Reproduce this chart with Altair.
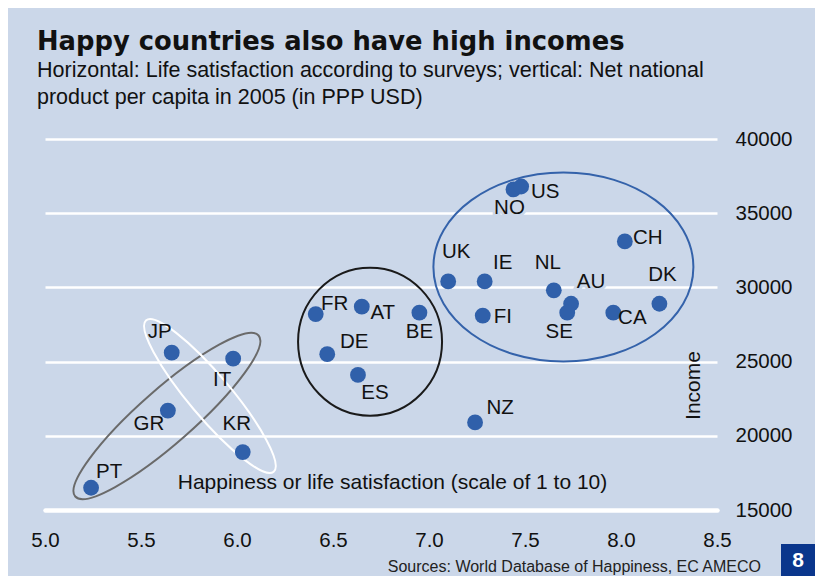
import altair as alt
import pandas as pd

# ---------------- data ----------------
countries = ["PT", "GR", "JP", "IT", "KR", "FR", "AT", "BE", "DE", "ES", "NZ",
             "NO", "US", "UK", "IE", "FI", "NL", "AU", "SE", "CH", "CA", "DK"]
happiness = [5.24, 5.64, 5.66, 5.98, 6.03, 6.41, 6.65, 6.95, 6.47, 6.63, 7.24,
             7.44, 7.48, 7.10, 7.29, 7.28, 7.65, 7.74, 7.72, 8.02, 7.96, 8.20]
income = [16500, 21700, 25600, 25200, 18900, 28200, 28700, 28300, 25500, 24100, 20900,
          36600, 36800, 30400, 30400, 28100, 29800, 28900, 28300, 33100, 28300, 28900]

x_ticks = [5.0, 5.5, 6.0, 6.5, 7.0, 7.5, 8.0, 8.5]
y_ticks = [15000, 20000, 25000, 30000, 35000, 40000]

# country groups circled in the chart (centre of each ellipse, in data units)
group_names = ["south", "asia", "europe", "rich"]
group_happiness = [5.635, 5.859, 6.693, 7.700]
group_income = [21335, 22683, 26342, 31376]

title_text = "Happy countries also have high incomes"
subtitle_text = ["Horizontal: Life satisfaction according to surveys; vertical: Net national",
                 "product per capita in 2005 (in PPP USD)"]
x_title = "Happiness or life satisfaction (scale of 1 to 10)"
y_title = "Income"
source_text = "Sources:  World Database of Happiness, EC AMECO"
page_number = "8"

# ---------------- styles ----------------
BG = "#cbd7e9"
DOT = "#3060aa"
INK = "#111111"
FONT = "Liberation Sans"

# label placement: pixel offset of label centre from its dot
label_offsets = {
    "PT": (18, -16), "GR": (-19, 13), "JP": (-12, -21), "IT": (-11, 21), "KR": (-6, -28),
    "FR": (19, -10), "AT": (21, 6), "BE": (0, 19), "DE": (27, -12), "ES": (17, 18),
    "NZ": (25, -14), "NO": (-4, 19), "US": (24, 6), "UK": (8, -29), "IE": (18, -18),
    "FI": (20, 1), "NL": (-6, -27), "AU": (20, -22), "SE": (-8, 19), "CH": (23, -3),
    "CA": (19, 5), "DK": (3, -29),
}

# ellipse styles: (semi-axis along x, semi-axis along y, rotation, colour)
ellipse_styles = {
    "south": (122, 27, 318.7, "#6a6a6a"),
    "asia": (99, 21, 49.9, "#ffffff"),
    "europe": (72, 74, 0, "#1a1a1a"),
    "rich": (130, 94.5, 0, "#3462aa"),
}


def ellipse_path(r):
    k = 0.5523
    return (f"M 1 0 C 1 {k*r:.4f} {k:.4f} {r:.4f} 0 {r:.4f} "
            f"C {-k:.4f} {r:.4f} -1 {k*r:.4f} -1 0 "
            f"C -1 {-k*r:.4f} {-k:.4f} {-r:.4f} 0 {-r:.4f} "
            f"C {k:.4f} {-r:.4f} 1 {-k*r:.4f} 1 0 Z")


df = pd.DataFrame({"country": countries, "happiness": happiness, "income": income})
gdf = pd.DataFrame({"group": group_names, "happiness": group_happiness, "income": group_income})

xscale = alt.Scale(domain=[5.0, 8.5], nice=False, zero=False)
yscale = alt.Scale(domain=[15000, 40000], nice=False, zero=False)

x_enc = alt.X("happiness:Q", scale=xscale, axis=alt.Axis(
    values=x_ticks, format=".1f", labelFont=FONT, labelFontSize=20.5, labelColor=INK,
    labelPadding=20, labelFlush=False, ticks=False, grid=False,
    domainColor="white", domainWidth=4.5, domainCap="round",
    title=x_title, titleFont=FONT, titleFontSize=21, titleFontWeight="normal",
    titleColor=INK, titleX=347, titleY=-28, titleBaseline="middle", titleAlign="center"))
y_enc = alt.Y("income:Q", scale=yscale, axis=alt.Axis(
    orient="right", values=y_ticks, format="d", labelFont=FONT, labelFontSize=20.5,
    labelColor=INK, labelPadding=18, labelAlign="left", labelBaseline="middle",
    ticks=False, domain=False, grid=True, gridColor="white", gridWidth=2.5,
    title=y_title, titleFont=FONT, titleFontSize=21, titleFontWeight="normal",
    titleColor=INK, titleAngle=270, titleX=-24, titleY=246, titleAlign="center",
    titleBaseline="middle"))

base = alt.Chart(df).encode(x=x_enc, y=y_enc)

layers = []
# halo behind labels (hides gridlines under text)
for c in countries:
    dx, dy = label_offsets[c]
    layers.append(base.transform_filter(alt.datum.country == c).mark_text(
        dx=dx, dy=dy, font=FONT, fontSize=20.5, color=BG, stroke=BG, strokeWidth=6,
        align="center", baseline="middle").encode(text="country:N"))

# ellipses
for g in group_names:
    a, b, ang, col = ellipse_styles[g]
    layers.append(alt.Chart(gdf).transform_filter(alt.datum.group == g).mark_point(
        shape=ellipse_path(b / a), size=(2 * a) ** 2, angle=ang, filled=False,
        color=col, strokeWidth=2, opacity=1).encode(x="happiness:Q", y="income:Q"))

# dots
layers.append(base.mark_circle(size=250, color=DOT, opacity=1))

# labels
for c in countries:
    dx, dy = label_offsets[c]
    layers.append(base.transform_filter(alt.datum.country == c).mark_text(
        dx=dx, dy=dy, font=FONT, fontSize=20.5, color=INK,
        align="center", baseline="middle").encode(text="country:N"))

# source note
layers.append(alt.Chart(pd.DataFrame({"t": [source_text]})).mark_text(
    font=FONT, fontSize=16, color="#222222", align="right", baseline="middle").encode(
    x=alt.value(716), y=alt.value(428), text="t:N"))

# page badge
layers.append(alt.Chart(pd.DataFrame({"t": [page_number]})).mark_rect(color="#0a368c").encode(
    x=alt.value(736), x2=alt.value(770), y=alt.value(405), y2=alt.value(437)))
layers.append(alt.Chart(pd.DataFrame({"t": [page_number]})).mark_text(
    font=FONT, fontSize=21, fontWeight="bold", color="white", align="center",
    baseline="middle").encode(x=alt.value(753), y=alt.value(422), text="t:N"))

chart = alt.layer(*layers).properties(
    width=672, height=371,
    title=alt.TitleParams(
        text=title_text, subtitle=subtitle_text, anchor="start", frame="group", dx=-8,
        font="DejaVu Sans", fontSize=25.8, fontWeight="bold", color=INK,
        subtitleFont=FONT, subtitleFontSize=21.5, subtitleColor=INK,
        subtitleLineHeight=27, subtitlePadding=4, offset=20),
    background=BG,
    padding={"left": 37, "top": 131, "right": 98, "bottom": 66},
    autosize=alt.AutoSizeParams(type="none"),
).configure_view(stroke=None)

chart.save("out.html", embed_options={"renderer": "svg", "actions": False})
